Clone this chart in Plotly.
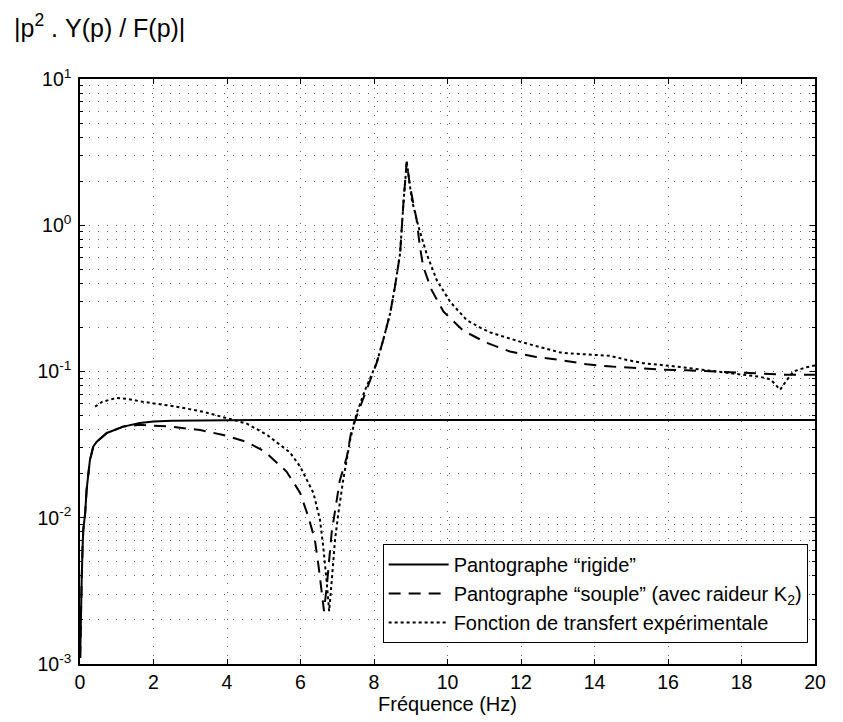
import plotly.graph_objects as go

# ---- data ----
x_rigide = [0.005, 0.02, 0.045, 0.07, 0.09, 0.14, 0.18, 0.23, 0.27, 0.36, 0.45, 0.73, 1.18, 1.63, 2.0, 2.5,
            3.0, 4.0, 6.0, 8.0, 10.0, 12.0, 14.0, 16.0, 18.0, 20.0]
y_rigide = [0.0011, 0.0022, 0.0037, 0.0063, 0.0083, 0.0107, 0.0155, 0.0202, 0.0248, 0.0306, 0.033, 0.038, 0.042,
            0.0444, 0.0455, 0.046, 0.0463, 0.0465, 0.0466, 0.0466, 0.0466, 0.0466, 0.0466, 0.0466, 0.0466, 0.0466]

x_souple = [0.005, 0.02, 0.045, 0.07, 0.09, 0.14, 0.18, 0.23, 0.27, 0.36, 0.45, 0.73, 1.18, 1.63, 2.0, 2.45,
            3.27, 3.9, 4.54, 5.03, 5.62, 5.99, 6.21, 6.39, 6.49, 6.58, 6.64, 6.72, 6.8, 6.85, 7.07, 7.26,
            7.39, 7.62, 7.85, 8.07, 8.25, 8.44, 8.57, 8.71, 8.80, 8.89, 8.98, 9.16, 9.25, 9.34, 9.57, 9.89,
            10.43, 11.07, 11.7, 12.38, 13.15, 13.79, 14.47, 15.15, 15.83, 16.51, 17.19, 17.87, 18.55, 19.23, 20.0]
y_souple = [0.0011, 0.0022, 0.0037, 0.0063, 0.0083, 0.0107, 0.0155, 0.0202, 0.0248, 0.0306, 0.033, 0.038, 0.042,
            0.0432, 0.0428, 0.042, 0.0398, 0.0368, 0.033, 0.0283, 0.0207, 0.0148, 0.0102, 0.0071, 0.0047, 0.0029,
            0.0023, 0.0035, 0.0057, 0.008, 0.018, 0.026, 0.040, 0.0575, 0.081, 0.114, 0.164, 0.25, 0.38, 0.64,
            1.41, 2.72, 1.84, 1.09, 0.71, 0.52, 0.36, 0.257, 0.19, 0.157, 0.137, 0.126, 0.119, 0.112, 0.108,
            0.105, 0.103, 0.102, 0.100, 0.098, 0.097, 0.095, 0.095]

x_exp = [0.41, 0.6, 0.8, 1.0, 1.27, 1.72, 2.63, 3.36, 3.99, 4.54, 5.08, 5.35, 5.71, 5.99, 6.35, 6.53, 6.62,
         6.71, 6.78, 6.85, 6.94, 7.03, 7.16, 7.35, 7.53, 7.76, 8.07, 8.25, 8.44, 8.57, 8.71, 8.80, 8.89, 9.03,
         9.21, 9.43, 9.71, 10.07, 10.52, 10.88, 11.16, 11.97, 13.06, 13.33, 14.42, 14.88, 15.33, 16.24, 17.05,
         17.78, 18.5, 18.8, 19.05, 19.2, 19.41, 19.77, 20.0]
y_exp = [0.0575, 0.062, 0.064, 0.066, 0.065, 0.062, 0.0575, 0.053, 0.048, 0.044, 0.037, 0.033, 0.028, 0.0224,
         0.0148, 0.0097, 0.0063, 0.0037, 0.0023, 0.0037, 0.0071, 0.0107, 0.018, 0.034, 0.052, 0.075, 0.114,
         0.164, 0.25, 0.38, 0.64, 1.41, 2.72, 1.49, 0.98, 0.64, 0.42, 0.30, 0.225, 0.2, 0.185, 0.16, 0.135,
         0.133, 0.128, 0.12, 0.114, 0.108, 0.102, 0.097, 0.092, 0.088, 0.075, 0.085, 0.100, 0.107, 0.11]

x_ticks = [0, 2, 4, 6, 8, 10, 12, 14, 16, 18, 20]
y_ticks = [0.001, 0.01, 0.1, 1, 10]
y_ticktext = ["10<sup>-3</sup>", "10<sup>-2</sup>", "10<sup>-1</sup>", "10<sup>0</sup>", "10<sup>1</sup>"]
y_minor = [m * d for d in [0.001, 0.01, 0.1, 1] for m in range(2, 10)]

FONT = "Liberation Sans, Arial, sans-serif"
GRID = "#666666"
GDASH = "1px,8px"

fig = go.Figure()
fig.add_trace(go.Scatter(x=x_rigide, y=y_rigide, mode="lines", name="Pantographe “rigide”",
                         line=dict(color="black", width=2, dash="solid")))
fig.add_trace(go.Scatter(x=x_souple, y=y_souple, mode="lines",
                         name="Pantographe “souple” (avec raideur K<sub>2</sub>)",
                         line=dict(color="black", width=2, dash="12px,8px")))
fig.add_trace(go.Scatter(x=x_exp, y=y_exp, mode="lines", name="Fonction de transfert expérimentale",
                         line=dict(color="black", width=2, dash="3px,3px")))

fig.update_layout(
    width=843, height=722,
    margin=dict(l=80, r=28, t=79, b=58),
    paper_bgcolor="white", plot_bgcolor="white",
    font=dict(family=FONT, size=19, color="black"),
    showlegend=True,
    legend=dict(x=0.99, y=0.036, xanchor="right", yanchor="bottom",
                bgcolor="white", bordercolor="black", borderwidth=1,
                font=dict(size=20, family=FONT), tracegroupgap=0,
                itemwidth=60),
    xaxis=dict(range=[0, 20], tickvals=x_ticks, ticks="inside", ticklen=5, tickwidth=1,
               tickcolor="black", showline=True, linecolor="black", linewidth=1.5, mirror="allticks",
               showgrid=True, gridcolor=GRID, griddash=GDASH, gridwidth=1, zeroline=False,
               tickfont=dict(size=19.5, family=FONT),
               title=dict(text="Fréquence (Hz)", font=dict(size=20, family=FONT), standoff=0)),
    yaxis=dict(type="log", range=[-3, 1], tickvals=y_ticks, ticktext=y_ticktext, ticks="inside",
               ticklen=5, tickwidth=1, tickcolor="black", showline=True, linecolor="black",
               linewidth=1.5, mirror="allticks", showgrid=True, gridcolor=GRID, griddash=GDASH,
               gridwidth=1, zeroline=False, tickfont=dict(size=19.5, family=FONT), ticklabelstandoff=3,
               minor=dict(tickmode="array", tickvals=y_minor, ticks="inside", ticklen=3,
                          tickcolor="black", showgrid=True, gridcolor=GRID, griddash=GDASH, gridwidth=1)),
)

fig.add_annotation(text="|p<sup>2</sup>\u00a0.\u00a0Y(p)\u00a0/\u00a0F(p)|", xref="paper", yref="paper",
                   x=-0.093, y=1.09, xanchor="left", yanchor="middle", showarrow=False,
                   font=dict(size=25, family=FONT, color="black"))

fig.write_html("out.html")
